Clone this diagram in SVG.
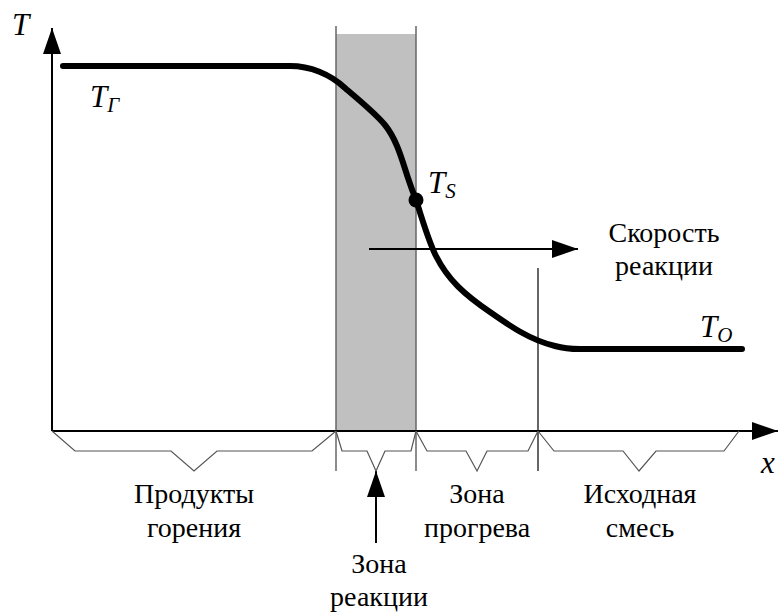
<svg xmlns="http://www.w3.org/2000/svg" width="780" height="614" viewBox="0 0 780 614" font-family="'Liberation Serif', 'Times New Roman', serif">
<style>
.lbl{font-size:28px;fill:#000;text-anchor:middle}
.sym{font-style:italic;font-size:31px;fill:#000}
.sub{font-size:21px}
.brace{fill:none;stroke:#555;stroke-width:1.2;stroke-linejoin:miter}
.zl{stroke:#666;stroke-width:1.5}
.axis{stroke:#000;stroke-width:2}
</style>
<defs>
<marker id="ah" markerWidth="26" markerHeight="18" refX="26" refY="9" orient="auto" markerUnits="userSpaceOnUse">
<path d="M0,0 L26,9 L0,18 Z" fill="#000"/>
</marker>
</defs>
<g id="reaction-zone">
<rect x="336" y="34" width="80" height="397" fill="#c0c0c0"/>
<line class="zl" x1="336" y1="26" x2="336" y2="471"/>
<line class="zl" x1="416" y1="26" x2="416" y2="471"/>
</g>
<g id="boundary">
<line x1="538" y1="268" x2="538" y2="471" stroke="#000" stroke-width="1.2"/>
</g>
<g id="connectors">
<line class="axis" x1="52" y1="431" x2="52" y2="28" marker-end="url(#ah)"/>
<line class="axis" x1="52" y1="431" x2="778" y2="431" marker-end="url(#ah)"/>
<line x1="369" y1="249" x2="578" y2="249" stroke="#000" stroke-width="2" marker-end="url(#ah)"/>
<line x1="376" y1="543" x2="376" y2="471" stroke="#000" stroke-width="2" marker-end="url(#ah)"/>
</g>
<g id="curve">
<path d="M63,66 H290 C310,66 330,74 345,88 C360,101 375,113 385,125 C397,140 402,160 408,178 C412,190 414,195 416,200 C422,218 428,240 436,256 C448,280 465,295 490,312 C510,326 530,340 555,346 C562,348 568,349 580,349 H742" fill="none" stroke="#000" stroke-width="6" stroke-linecap="round" stroke-linejoin="round"/>
<circle cx="416" cy="200" r="7.5" fill="#000"/>
</g>
<g id="braces">
<polyline class="brace" points="52,431 75,451 171,451 194,471 217,451 312,451 336,431"/>
<polyline class="brace" points="336,431 342,451 367,451 376,471 385,451 411,451 416,431"/>
<polyline class="brace" points="416,431 427,451 466,451 477,471 487,451 528,451 538,431"/>
<polyline class="brace" points="538,431 554,451 623,451 639,471 656,451 724,451 739,431"/>
</g>
<g id="axis-labels">
<text class="sym" x="12" y="35">T</text>
<text class="sym" x="761" y="473">x</text>
</g>
<g id="temps">
<text class="sym" x="90" y="107">T<tspan class="sub" dy="5">Г</tspan></text>
<text class="sym" x="428" y="193">T<tspan class="sub" dy="5">S</tspan></text>
<text class="sym" x="700" y="337">T<tspan class="sub" dy="5">O</tspan></text>
</g>
<g id="speed-label">
<text class="lbl" x="664" y="242">Скорость</text>
<text class="lbl" x="664" y="275">реакции</text>
</g>
<g id="products-label">
<text class="lbl" x="194" y="503">Продукты</text>
<text class="lbl" x="194" y="537">горения</text>
</g>
<g id="reaction-label">
<text class="lbl" x="379" y="573">Зона</text>
<text class="lbl" x="379" y="606">реакции</text>
</g>
<g id="preheat-label">
<text class="lbl" x="477" y="503">Зона</text>
<text class="lbl" x="477" y="537">прогрева</text>
</g>
<g id="mixture-label">
<text class="lbl" x="640" y="503">Исходная</text>
<text class="lbl" x="640" y="537">смесь</text>
</g>
</svg>
